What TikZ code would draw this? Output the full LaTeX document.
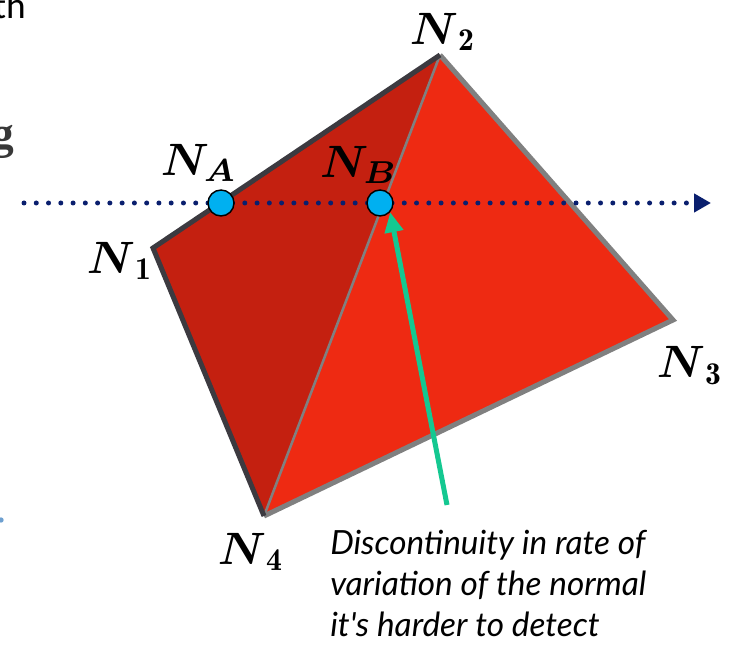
\documentclass[tikz,border=0pt]{standalone}
\usepackage{amsmath}
\usepackage{amssymb}
\usepackage{fontspec}
\usetikzlibrary{arrows.meta}
\newfontfamily\notefont{Lato}
\newfontfamily\slidefont{Carlito}
\newfontfamily\headfont{Liberation Serif}
\definecolor{facedark}{RGB}{196,32,16}
\definecolor{facelight}{RGB}{238,42,18}
\definecolor{edgeblack}{RGB}{60,58,64}
\definecolor{edgegray}{RGB}{128,128,128}
\definecolor{raynavy}{RGB}{10,31,110}
\definecolor{hitblue}{RGB}{0,176,240}
\definecolor{pointgreen}{RGB}{20,200,145}
\definecolor{bulletblue}{RGB}{110,160,208}

\begin{document}
\begin{tikzpicture}[x=0.75pt,y=-0.75pt,
    vlabel/.style={scale=3.4,inner sep=0pt},
    hit/.style={circle,draw=black,line width=1.1pt,fill=hitblue,minimum size=19.5pt,inner sep=0pt},
    outer/.style={line width=3.75pt,line join=miter},
    ray/.style={raynavy,line width=3.75pt,line cap=round,dash pattern=on 0pt off 9.2pt,
        -{Triangle[length=12.75pt,width=13.5pt]}},
    pointer/.style={pointgreen,line width=3.75pt,-{Triangle[length=15pt,width=13.5pt]}}
]
\useasboundingbox (0,0) rectangle (731,648);
\clip (0,0) rectangle (731,648);
% slide remnants at the left border
\node[anchor=base east,inner sep=0pt,font=\slidefont\fontsize{28}{32}\selectfont] (th) at (26,19) {th};
\node[anchor=base east,inner sep=0pt,text=black!78,font=\headfont\bfseries\fontsize{34}{38}\selectfont] (gg) at (14,149) {g};
\fill[bulletblue] (1,520) circle (2pt);
% quad split in two faces
\coordinate (n1) at (153,248);
\coordinate (n2) at (440,55);
\coordinate (n3) at (673,320);
\coordinate (n4) at (264,516);
\fill[facedark] (n1) -- (n2) -- (n4) -- cycle;
\fill[facelight] (n2) -- (n3) -- (n4) -- cycle;
\draw[edgegray,line width=1.9pt] (n2) -- (n4);
\draw[outer,edgegray] (n2) -- (n3) -- (n4);
\draw[outer,edgeblack] (n4) -- (n1) -- (n2);
% ray and hits
\coordinate (rayS) at (24,203);
\coordinate (rayE) at (711,203);
\draw[ray] (rayS) -- (rayE);
\node[hit] (na) at (221,203) {};
\node[hit] (nb) at (380,203) {};
\coordinate (tail) at (447,505);
\draw[pointer] (tail) -- (nb.-42);
% labels
\node[vlabel] (lna) at (199,163) {$\boldsymbol{N_A}$};
\node[vlabel] (lnb) at (359,165) {$\boldsymbol{N_B}$};
\node[vlabel] (ln1) at (120,261) {$\boldsymbol{N}_{\mathbf{1}}$};
\node[vlabel] (ln2) at (443,32) {$\boldsymbol{N}_{\mathbf{2}}$};
\node[vlabel] (ln3) at (690,366) {$\boldsymbol{N}_{\mathbf{3}}$};
\node[vlabel] (ln4) at (251,552) {$\boldsymbol{N}_{\mathbf{4}}$};
\node[anchor=north west,align=left,inner sep=0pt,font=\notefont\itshape\fontsize{25}{30.75}\selectfont] (note) at (330,530)
    {Discontinuity in rate of\\variation of the normal\\it's harder to detect};
\end{tikzpicture}
\end{document}
